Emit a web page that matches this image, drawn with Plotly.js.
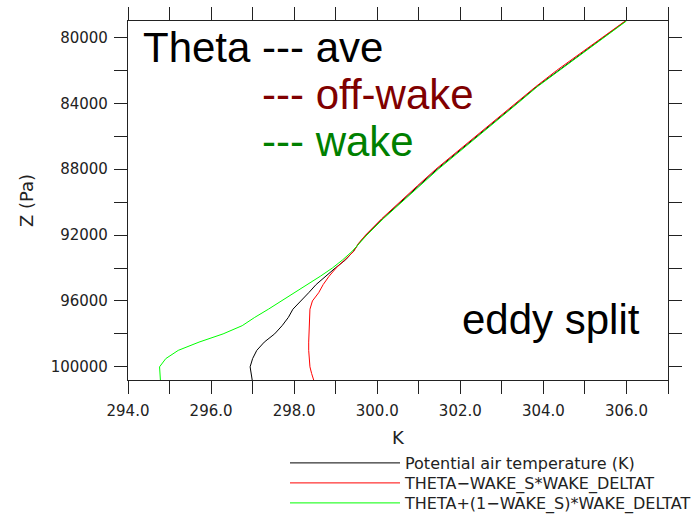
<!DOCTYPE html>
<html>
<head>
<meta charset="utf-8">
<script src="https://cdn.plot.ly/plotly-3.0.1.min.js"></script>
<style>html,body{margin:0;padding:0;background:#fff;}#chart{width:694px;height:521px;}</style>
</head>
<body>
<div id="chart"></div>
<script>
// Pressure levels (Pa)
const pressure = [79000, 80000, 81000, 82000, 83000, 84000, 85000, 86000, 87000, 88000, 89000, 90000, 91000, 92000, 92500,
  93000, 93500, 94000, 94500, 95000, 95500, 96000, 96500, 97000, 97500, 98000, 98500, 99000, 99500, 100000, 100400, 100800];
// Potential air temperature (K) - average
const thetaAve = [305.98, 305.44, 304.88, 304.34, 303.83, 303.36, 302.88, 302.39, 301.90, 301.44, 301.00, 300.57, 300.13, 299.73, 299.56,
  299.42, 299.24, 298.99, 298.76, 298.53, 298.35, 298.16, 297.97, 297.86, 297.71, 297.53, 297.28, 297.10, 297.00, 296.94, 296.97, 296.99];
// THETA-WAKE_S*WAKE_DELTAT (off-wake)
const thetaOffWake = [305.97, 305.42, 304.86, 304.32, 303.81, 303.33, 302.85, 302.36, 301.87, 301.41, 300.97, 300.55, 300.11, 299.72, 299.55,
  299.43, 299.23, 299.01, 298.84, 298.70, 298.59, 298.44, 298.38, 298.37, 298.36, 298.35, 298.35, 298.35, 298.36, 298.38, 298.42, 298.47];
// THETA+(1-WAKE_S)*WAKE_DELTAT (wake)
const thetaWake = [306.00, 305.46, 304.90, 304.36, 303.85, 303.38, 302.90, 302.41, 301.93, 301.47, 301.03, 300.59, 300.15, 299.75, 299.57,
  299.39, 299.17, 298.92, 298.63, 298.32, 298.01, 297.71, 297.38, 297.05, 296.75, 296.29, 295.71, 295.21, 294.91, 294.76, 294.77, 294.78];

const seriesNames = ["Potential air temperature (K)", "THETA\u2212WAKE_S*WAKE_DELTAT", "THETA+(1\u2212WAKE_S)*WAKE_DELTAT"];
const seriesColors = ["#000000", "#ff0000", "#00ff00"];
const xTickVals = [294, 295, 296, 297, 298, 299, 300, 301, 302, 303, 304, 305, 306, 307];
const xTickText = ["294.0", "", "296.0", "", "298.0", "", "300.0", "", "302.0", "", "304.0", "", "306.0", ""];
const yTickVals = [80000, 82000, 84000, 86000, 88000, 90000, 92000, 94000, 96000, 98000, 100000];
const yTickText = ["80000", "", "84000", "", "88000", "", "92000", "", "96000", "", "100000"];

const W = 694, H = 521, L = 128, R = 26, T = 21, B = 141;
const pw = W - L - R, ph = H - T - B;
const px = v => (v - L) / pw;
const py = v => (H - B - v) / ph;

const traces = [
  {x: thetaAve, y: pressure, name: seriesNames[0], legend: "legend", mode: "lines", line: {color: seriesColors[0], width: 1}},
  {x: thetaOffWake, y: pressure, name: seriesNames[1], legend: "legend2", mode: "lines", line: {color: seriesColors[1], width: 1}},
  {x: thetaWake, y: pressure, name: seriesNames[2], legend: "legend3", mode: "lines", line: {color: seriesColors[2], width: 1}}
];
function axCommon() {
  return {
    showline: true, linecolor: "#222", linewidth: 1.2, mirror: "ticks",
    ticks: "outside", ticklen: 13, tickwidth: 1.2, tickcolor: "#222",
    showgrid: false, zeroline: false, tickmode: "array",
    tickfont: {family: "DejaVu Sans", size: 15, color: "#222"}
  };
}
function legendAt(yc) {
  return {x: px(285), y: py(yc), xanchor: "left", yanchor: "middle",
    font: {family: "DejaVu Sans", size: 16, color: "#222"}, itemwidth: 110,
    bgcolor: "rgba(0,0,0,0)", borderwidth: 0};
}
const annFont = (c) => ({family: "Liberation Sans", size: 42, color: c});
const layout = {
  width: W, height: H,
  margin: {l: L, r: R, t: T, b: B, autoexpand: false},
  paper_bgcolor: "#fff", plot_bgcolor: "#fff",
  showlegend: true,
  legend: legendAt(463),
  legend2: legendAt(483),
  legend3: legendAt(503),
  xaxis: Object.assign(axCommon(), {range: [294, 307], autorange: false, tickvals: xTickVals, ticktext: xTickText,
    ticklabelstandoff: 4,
    title: {text: "K", font: {family: "DejaVu Sans", size: 18, color: "#222"}, standoff: 12}}),
  yaxis: Object.assign(axCommon(), {range: [100800, 79000], autorange: false, tickvals: yTickVals, ticktext: yTickText,
    ticklabelstandoff: 3,
    title: {text: "Z (Pa)", font: {family: "DejaVu Sans", size: 18, color: "#222"}, standoff: 12}}),
  annotations: [
    {text: "Theta --- ave", xref: "paper", yref: "paper", x: px(141), y: py(47), xanchor: "left", yanchor: "middle", showarrow: false, font: annFont("#000000")},
    {text: "--- off-wake", xref: "paper", yref: "paper", x: px(260), y: py(94), xanchor: "left", yanchor: "middle", showarrow: false, font: annFont("#800000")},
    {text: "--- wake", xref: "paper", yref: "paper", x: px(260), y: py(141), xanchor: "left", yanchor: "middle", showarrow: false, font: annFont("#008000")},
    {text: "eddy split", xref: "paper", yref: "paper", x: px(460), y: py(319), xanchor: "left", yanchor: "middle", showarrow: false, font: annFont("#000000")}
  ]
};
Plotly.newPlot("chart", traces, layout, {displayModeBar: false});
</script>
</body>
</html>
